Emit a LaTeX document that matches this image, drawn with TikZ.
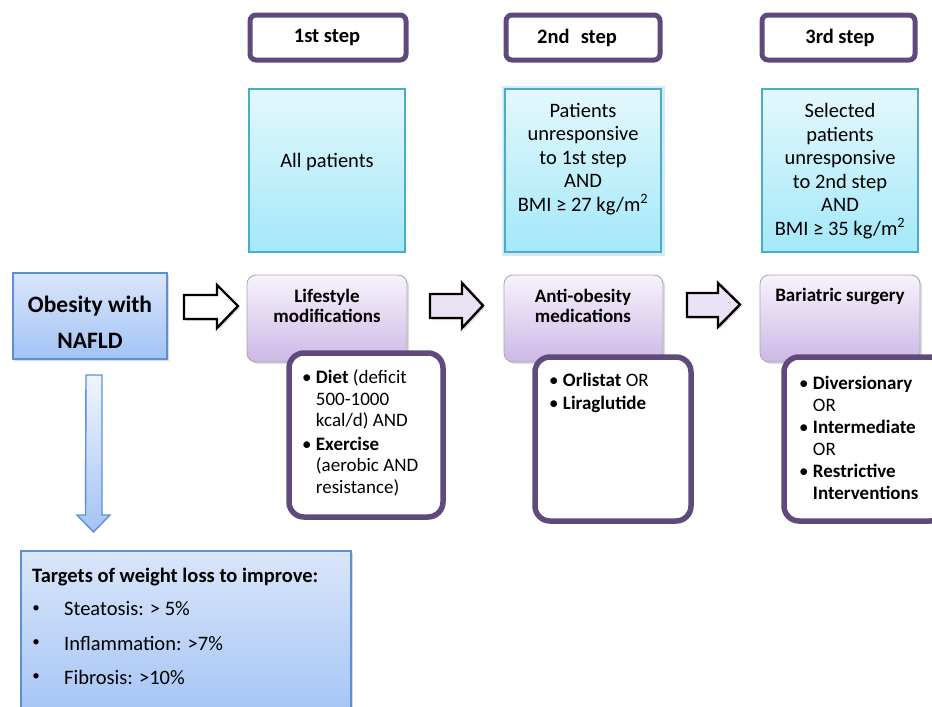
\documentclass[tikz,border=0pt]{standalone}
\usepackage{fontspec}
\setmainfont{Carlito}
\usetikzlibrary{shadows}
\definecolor{stepPurple}{HTML}{604A7B}
\definecolor{cyanBorder}{HTML}{4BACC6}
\definecolor{cyanTop}{HTML}{E4F8FC}
\definecolor{cyanBot}{HTML}{A3E8F9}
\definecolor{lavTop}{HTML}{F7F3FB}
\definecolor{lavBot}{HTML}{CDB8E6}
\definecolor{blueTop}{HTML}{D9E6FA}
\definecolor{blueBot}{HTML}{A3C3F5}
\definecolor{blueBorder}{HTML}{5F8FD3}
\definecolor{arrowLav}{HTML}{EAE3F6}
\tikzset{
  stephead/.style={draw=stepPurple, line width=5pt, rounded corners=6pt, fill=white},
  critbox/.style={draw=cyanBorder, line width=2pt, top color=cyanTop, bottom color=cyanBot},
  treatbox/.style={draw=black!35, line width=0.8pt, rounded corners=9pt, top color=lavTop, bottom color=lavBot,
     drop shadow={opacity=0.25, shadow xshift=2pt, shadow yshift=-2pt}},
  detailbox/.style={draw=stepPurple, line width=5.5pt, rounded corners=15pt, fill=white},
  bluebox/.style={draw=blueBorder, line width=1.4pt, top color=blueTop, bottom color=blueBot,
     drop shadow={opacity=0.3, shadow xshift=2pt, shadow yshift=-2pt}},
  blockarrow/.style={draw=black, line width=2.4pt, line join=miter,
     drop shadow={opacity=0.25, shadow xshift=2pt, shadow yshift=-2pt}},
  txt/.style={font=\fontsize{20.5}{23.5}\selectfont, inner sep=0pt},
  htxt/.style={font=\bfseries\fontsize{20.5}{23}\selectfont, inner sep=0pt},
  btxt/.style={font=\bfseries\fontsize{19}{20.5}\selectfont, inner sep=0pt},
  dtxt/.style={font=\fontsize{19}{21.5}\selectfont, inner sep=0pt, align=left, anchor=west},
}
\begin{document}
\begin{tikzpicture}[x=1pt,y=-1pt]
\useasboundingbox (0,0) rectangle (932,707);

% step headers
\draw[stephead] (250,15) rectangle (406,60);
\node[htxt] (s1) at (327,37.5) {1st step};
\draw[stephead] (506,15) rectangle (660,60);
\node[htxt] (s2) at (577,37.5) {2nd\hspace{0.55em}step};
\draw[stephead] (762,15) rectangle (915,60);
\node[htxt] (s3) at (840,37.5) {3rd step};

% criteria boxes
\draw[critbox] (249,89) rectangle (405,252);
\node[txt] (c1) at (327,162) {All patients};
\draw[cyanBorder!25, line width=7pt] (505,89) rectangle (661,252);
\draw[critbox] (505,89) rectangle (661,252);
\node[txt, align=center] (c2) at (583,159) {Patients\\unresponsive\\to 1st step\\AND\\BMI ≥ 27 kg/m\textsuperscript{2}};
\draw[critbox] (762,89) rectangle (918,252);
\node[txt, align=center] (c3) at (840,171) {Selected\\patients\\unresponsive\\to 2nd step\\AND\\BMI ≥ 35 kg/m\textsuperscript{2}};

% treatment boxes
\draw[treatbox] (247,275) rectangle (407,362);
\node[btxt, align=center] (t1) at (327,306) {Lifestyle\\modifications};
\draw[treatbox] (504,275) rectangle (663,362);
\node[btxt, align=center] (t2) at (583,306) {Anti-obesity\\medications};
\draw[treatbox] (760,275) rectangle (920,362);
\node[btxt] (t3) at (840,296) {Bariatric surgery};

% detail boxes
\draw[detailbox] (289,353) rectangle (443,517);
\node[dtxt] (d1) at (302,433)
 {• \textbf{Diet} (deficit\\\hphantom{• }500-1000\\\hphantom{• }kcal/d) AND\\[2pt]
  • \textbf{Exercise}\\\hphantom{• }(aerobic AND\\\hphantom{• }resistance)};
\draw[detailbox] (535,357) rectangle (691,521);
\node[dtxt] (d2) at (549,393)
 {• \textbf{Orlistat} OR\\[2pt]• \textbf{Liraglutide}};
\draw[detailbox] (784,357) rectangle (945,521);
\node[dtxt] (d3) at (799,438)
 {• \textbf{Diversionary}\\\hphantom{• }OR\\[1pt]• \textbf{Intermediate}\\\hphantom{• }OR\\[1pt]• \textbf{Restrictive}\\\hphantom{• }\textbf{Interventions}};

% obesity box
\draw[bluebox] (13,273) rectangle (167,359);
\node[txt, font=\bfseries\fontsize{23.5}{36}\selectfont, align=center] (ob) at (90,322) {Obesity with\\NAFLD};

% block arrows
\draw[blockarrow, fill=white] (184,295) -- (217,295) -- (217,285) -- (238,306) -- (217,328) -- (217,319) -- (184,319) -- cycle;
\draw[blockarrow, fill=arrowLav] (430,294) -- (462,294) -- (462,283) -- (483,305.5) -- (462,328) -- (462,318) -- (430,318) -- cycle;
\draw[blockarrow, fill=arrowLav] (687,293) -- (718,293) -- (718,283) -- (740,304.5) -- (718,327) -- (718,317) -- (687,317) -- cycle;

% down arrow
\draw[draw=blueBorder, line width=1.4pt, top color=blueTop!40!white, bottom color=blueBot]
  (86,375) -- (102,375) -- (102,515) -- (110,515) -- (93.5,532) -- (77,515) -- (85.5,515) -- cycle;

% targets box
\draw[bluebox] (21,551) rectangle (351,720);
\node[txt, font=\bfseries\fontsize{20.5}{23}\selectfont, anchor=west] (tg) at (32,577) {Targets of weight loss to improve:};
\node[txt, font=\fontsize{15}{18}\selectfont] (b1) at (36,609) {•};
\node[txt, anchor=west] (l1) at (64,609) {Steatosis: > 5\%};
\node[txt, font=\fontsize{15}{18}\selectfont] (b2) at (36,643) {•};
\node[txt, anchor=west] (l2) at (64,643) {Inflammation: >7\%};
\node[txt, font=\fontsize{15}{18}\selectfont] (b3) at (36,677) {•};
\node[txt, anchor=west] (l3) at (64,677) {Fibrosis: >10\%};
\end{tikzpicture}
\end{document}
